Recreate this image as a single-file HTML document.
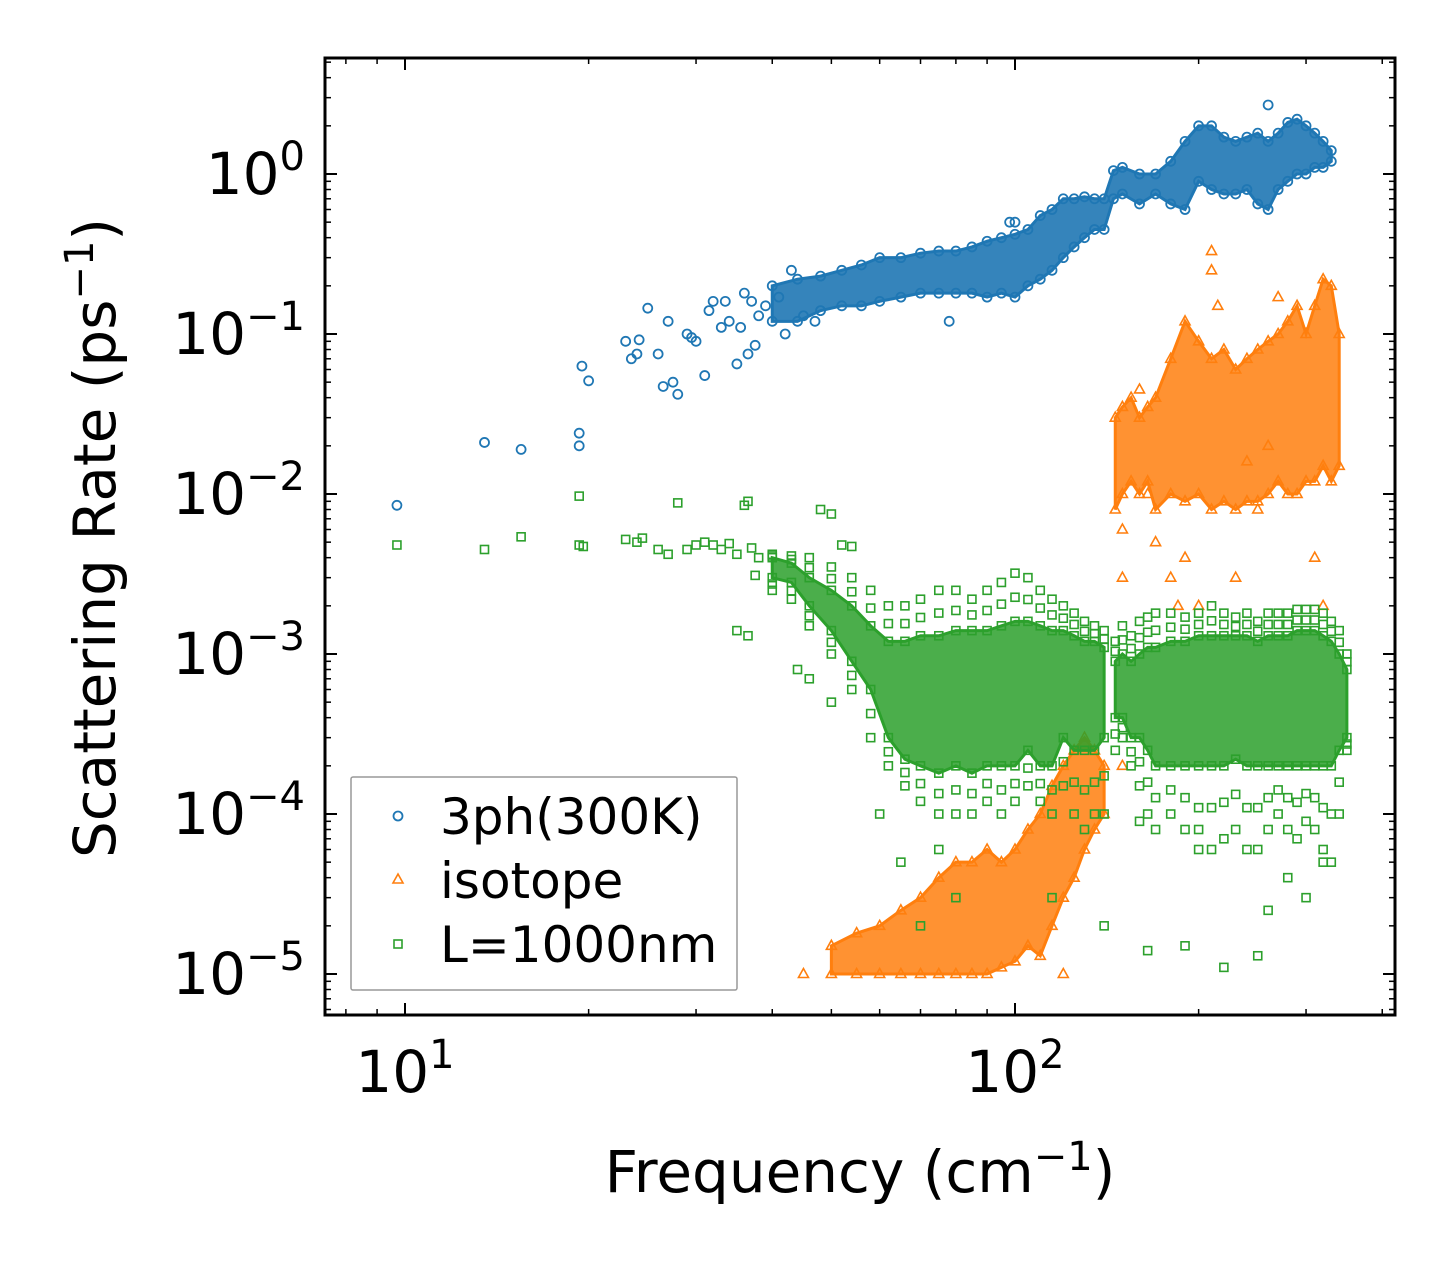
<!DOCTYPE html>
<html><head><meta charset="utf-8"><style>
html,body{margin:0;padding:0;background:#fff}
svg{display:block;font-family:"DejaVu Sans","Liberation Sans",sans-serif}
</style></head><body>
<svg id="chart" width="1455" height="1265" viewBox="0 0 1455 1265" xmlns="http://www.w3.org/2000/svg">
<rect width="1455" height="1265" fill="#fff"/>
<g id="marks"></g>
<g id="axes"></g>
<text transform="translate(115,538) rotate(-90)" text-anchor="middle" font-size="58">Scattering Rate (ps<tspan dy="-22" font-size="40">−1</tspan><tspan dy="22">)</tspan></text>
<text x="860" y="1192" text-anchor="middle" font-size="58">Frequency (cm<tspan dy="-22" font-size="40">−1</tspan><tspan dy="22">)</tspan></text>
<g>
<rect x="351" y="777" width="386" height="213" fill="#fff" stroke="#999" stroke-width="1.5" rx="2"/>
<g><circle cx="398" cy="816" r="4.5" fill="none" stroke="#1f77b4" stroke-width="1.8"/><text x="440" y="834" font-size="50">3ph(300K)</text></g>
<g><path d="M398,874 L403,883 L393,883 Z" fill="none" stroke="#ff7f0e" stroke-width="1.6"/><text x="440" y="898" font-size="50">isotope</text></g>
<g><rect x="394" y="940" width="8" height="8" fill="none" stroke="#2ca02c" stroke-width="1.6"/><text x="440" y="962" font-size="50">L=1000nm</text></g>
</g>
</svg>
<script>
// ---- data ----
const threeFreq=[9.7,13.5,15.5,19.3,19.3,19.5,20,23,23.5,24,24.2,25,26,26.5,27,27.5,28,29,29.5,30,31,31.5,32,33,33.5,34,35,35.5,36,36.5,37,37.5,38,39,41,42,43,45,47,78,98,100,260];
const threeRate=[0.0085,0.021,0.019,0.024,0.020,0.063,0.051,0.09,0.07,0.075,0.092,0.145,0.075,0.047,0.12,0.05,0.042,0.1,0.095,0.09,0.055,0.14,0.16,0.11,0.16,0.12,0.065,0.11,0.18,0.075,0.16,0.085,0.13,0.15,0.17,0.1,0.25,0.13,0.12,0.12,0.5,0.5,2.7];
const threeBandFreq=[40,44,48,52,56,60,65,70,75,80,85,90,95,100,105,110,115,120,125,130,135,140,145,150,160,170,180,190,200,210,220,230,240,250,260,270,280,290,300,310,320,330];
const threeBandLo=[0.12,0.12,0.14,0.15,0.15,0.16,0.17,0.18,0.18,0.18,0.18,0.17,0.18,0.17,0.2,0.22,0.25,0.3,0.35,0.4,0.45,0.45,0.7,0.75,0.65,0.75,0.65,0.6,0.9,0.8,0.75,0.75,0.8,0.65,0.6,0.8,0.9,1.0,1.0,1.1,1.1,1.2];
const threeBandHi=[0.2,0.22,0.23,0.25,0.27,0.3,0.3,0.32,0.33,0.33,0.35,0.38,0.4,0.42,0.45,0.55,0.6,0.7,0.7,0.72,0.7,0.7,1.05,1.1,1.0,1.0,1.2,1.6,2.0,2.0,1.7,1.6,1.7,1.8,1.6,1.8,2.1,2.2,2.0,1.8,1.6,1.4];

const isoFreq=[45,120,150,150,160,165,170,180,185,190,200,210,210,215,270,310,320,230,250,150,240,260];
const isoRate=[1e-5,1e-5,0.006,0.003,0.045,0.01,0.005,0.003,0.002,0.004,0.002,0.33,0.25,0.15,0.17,0.004,0.002,0.003,0.008,0.0002,0.016,0.02];
const isoBand1Freq=[50,55,60,65,70,75,80,85,90,95,100,105,110,115,120,125,130,135,140];
const isoBand1Lo=[1e-5,1e-5,1e-5,1e-5,1e-5,1e-5,1e-5,1e-5,1e-5,1.1e-5,1.2e-5,1.5e-5,1.3e-5,2e-5,3e-5,4e-5,6e-5,8e-5,1e-4];
const isoBand1Hi=[1.5e-5,1.8e-5,2e-5,2.5e-5,3e-5,4e-5,5e-5,5e-5,6e-5,5e-5,6e-5,8e-5,1e-4,1.5e-4,2e-4,2.5e-4,3e-4,2.5e-4,2e-4];
const isoBand2Freq=[146,150,155,160,165,170,180,190,200,210,220,230,240,250,260,270,280,290,300,310,320,330,340];
const isoBand2Lo=[0.008,0.01,0.012,0.01,0.012,0.008,0.01,0.009,0.01,0.008,0.009,0.008,0.009,0.009,0.01,0.012,0.01,0.01,0.012,0.012,0.015,0.012,0.015];
const isoBand2Hi=[0.03,0.035,0.04,0.03,0.035,0.04,0.07,0.12,0.09,0.07,0.08,0.06,0.07,0.08,0.09,0.1,0.12,0.15,0.1,0.15,0.22,0.2,0.1];

const bdyFreq=[9.7,13.5,15.5,19.3,19.3,19.6,23,24,24.5,26,27,28,29,30,31,32,33,34,35,36,36.5,37,37.5,35,36.5,38,44,46,48,50,52,54,50,60,65,70,75,80,115,140,160,165,190,200,220,250,260,280,300,320];
const bdyRate=[0.0048,0.0045,0.0054,0.0097,0.0048,0.0047,0.0052,0.005,0.0053,0.0045,0.0042,0.0088,0.0045,0.0048,0.005,0.0048,0.0045,0.0049,0.0042,0.0085,0.009,0.0046,0.0031,0.0014,0.0013,0.004,0.0008,0.0007,0.008,0.0075,0.0048,0.0047,0.0005,0.0001,0.00005,0.00002,0.00006,0.00003,0.00003,0.00002,0.00009,0.000014,0.000015,0.00008,0.000011,0.000013,0.000025,0.00004,0.00003,0.00005];
const bdyBand1Freq=[40,43,46,50,54,58,62,66,70,75,80,85,90,95,100,105,110,115,120,125,130,135,140];
const bdyBand1Lo=[0.0025,0.0022,0.0015,0.001,0.0006,0.0003,0.0002,0.00015,0.00012,0.0001,0.0001,0.0001,0.00012,0.0001,0.00012,0.00015,0.00012,0.0001,0.00015,0.0001,0.00008,0.0001,0.0001];
const bdyBand1InLo=[0.003,0.0028,0.002,0.0014,0.0009,0.0006,0.0003,0.00022,0.0002,0.00018,0.0002,0.00018,0.0002,0.0002,0.0002,0.00025,0.0002,0.0002,0.0003,0.00025,0.00025,0.00025,0.0003];
const bdyBand1InHi=[0.004,0.0037,0.003,0.0025,0.002,0.0015,0.0012,0.0012,0.0013,0.0013,0.0014,0.0014,0.0014,0.0015,0.0016,0.0016,0.0015,0.0014,0.0014,0.0013,0.0012,0.0012,0.0011];
const bdyBand1Hi=[0.0042,0.0041,0.004,0.0035,0.003,0.0025,0.002,0.002,0.0022,0.0025,0.0025,0.0022,0.0025,0.0028,0.0032,0.003,0.0025,0.0022,0.002,0.0018,0.0016,0.0015,0.0014];
const bdyBand2Freq=[146,150,155,160,165,170,180,190,200,210,220,230,240,250,260,270,280,290,300,310,320,330,340,350];
const bdyBand2Lo=[0.00025,0.0003,0.0002,0.00015,0.0001,0.00008,0.0001,0.00008,0.00006,0.00006,0.00007,0.00008,0.00006,0.00006,0.00008,0.0001,0.00008,0.00007,0.00009,0.00008,0.00006,0.00005,0.0001,0.00025];
const bdyBand2InLo=[0.0004,0.0004,0.0003,0.0003,0.00025,0.0002,0.0002,0.0002,0.0002,0.0002,0.0002,0.00022,0.0002,0.0002,0.0002,0.0002,0.0002,0.0002,0.0002,0.0002,0.0002,0.0002,0.00025,0.0003];
const bdyBand2InHi=[0.0009,0.001,0.0009,0.001,0.0011,0.0011,0.0012,0.0012,0.0013,0.0013,0.0013,0.0013,0.0013,0.0012,0.0013,0.0013,0.0013,0.0014,0.0014,0.0014,0.0013,0.0012,0.001,0.0008];
const bdyBand2Hi=[0.0012,0.0015,0.0013,0.0016,0.0017,0.0018,0.0018,0.0017,0.0018,0.002,0.0018,0.0017,0.0018,0.0016,0.0018,0.0018,0.0018,0.0019,0.0019,0.0019,0.0018,0.0016,0.0014,0.001];

const yTickExps=[0,-1,-2,-3,-4,-5];
const xTickExps=[1,2];

// ---- axes ----
const L=325,R=1395,T=58,B=1015;
function xs(f){return 405+610*(Math.log10(f)-1);}
function ys(r){return 174-160*Math.log10(r);}
const NS="http://www.w3.org/2000/svg";
const marks=document.getElementById('marks'), axes=document.getElementById('axes');
function mk(tag,attrs,parent){const e=document.createElementNS(NS,tag);for(const k in attrs)e.setAttribute(k,attrs[k]);parent.appendChild(e);return e;}

const C3='#1f77b4',CI='#ff7f0e',CB='#2ca02c';
function circ(f,r){const e=mk('circle',{cx:xs(f),cy:ys(r),r:4.5,fill:'none',stroke:C3,'stroke-width':1.8},marks);

}
function tri(f,r){const x=xs(f),y=ys(r);const e=mk('path',{d:`M${x},${y-5.5} L${x+5},${y+3.5} L${x-5},${y+3.5} Z`,fill:'none',stroke:CI,'stroke-width':1.6},marks);

}
function sq(f,r){const e=mk('rect',{x:xs(f)-4,y:ys(r)-4,width:8,height:8,fill:'none',stroke:CB,'stroke-width':1.6},marks);

}
function band(fr,lo,hi,col,op,name){let d='';fr.forEach((f,i)=>{d+=(i?'L':'M')+xs(f)+','+ys(hi[i]);});
for(let i=fr.length-1;i>=0;i--)d+='L'+xs(fr[i])+','+ys(lo[i]);d+='Z';
const e=mk('path',{d:d,fill:col,'fill-opacity':op,stroke:col,'stroke-width':3},marks);

}

// 3ph
band(threeBandFreq,threeBandLo,threeBandHi,C3,0.9,'band-3ph');
threeBandFreq.forEach((f,i)=>{circ(f,threeBandLo[i]);circ(f,threeBandHi[i]);});
threeFreq.forEach((f,i)=>circ(f,threeRate[i]));
// isotope
band(isoBand1Freq,isoBand1Lo,isoBand1Hi,CI,0.85,'band-isotope-low');
band(isoBand2Freq,isoBand2Lo,isoBand2Hi,CI,0.85,'band-isotope-high');
isoBand1Freq.forEach((f,i)=>{tri(f,isoBand1Lo[i]);tri(f,isoBand1Hi[i]);});
isoBand2Freq.forEach((f,i)=>{tri(f,isoBand2Lo[i]);tri(f,isoBand2Hi[i]);});
isoFreq.forEach((f,i)=>tri(f,isoRate[i]));
// boundary
band(bdyBand1Freq,bdyBand1InLo,bdyBand1InHi,CB,0.85,'band-boundary-low');
band(bdyBand2Freq,bdyBand2InLo,bdyBand2InHi,CB,0.85,'band-boundary-high');
[[bdyBand1Freq,bdyBand1Lo,bdyBand1InLo,bdyBand1InHi,bdyBand1Hi],[bdyBand2Freq,bdyBand2Lo,bdyBand2InLo,bdyBand2InHi,bdyBand2Hi]].forEach(b=>{
 b[0].forEach((f,i)=>{sq(f,b[1][i]);sq(f,Math.sqrt(b[1][i]*b[2][i]));sq(f,b[2][i]);sq(f,b[3][i]);sq(f,Math.sqrt(b[3][i]*b[4][i]));sq(f,b[4][i]);});
});
bdyFreq.forEach((f,i)=>sq(f,bdyRate[i]));

// frame
const fr=mk('rect',{x:L,y:T,width:R-L,height:B-T,fill:'none',stroke:'#000','stroke-width':3},axes);


// y ticks
yTickExps.forEach(e=>{const y=ys(Math.pow(10,e));
 mk('line',{x1:L,x2:L+12,y1:y,y2:y,stroke:'#000','stroke-width':2},axes);
 mk('line',{x1:R,x2:R-12,y1:y,y2:y,stroke:'#000','stroke-width':2},axes);
 const t=mk('text',{x:305,y:y+20,'text-anchor':'end','font-size':58},axes);
 
 
 t.innerHTML='10<tspan dy="-24" font-size="40">'+(e<0?'−'+(-e):e)+'</tspan>';
});
for(let e=-6;e<=0;e++)for(let m=2;m<=9;m++){const y=ys(m*Math.pow(10,e));if(y<T||y>B)continue;
 mk('line',{x1:L,x2:L+6,y1:y,y2:y,stroke:'#000','stroke-width':1.5},axes);
 mk('line',{x1:R,x2:R-6,y1:y,y2:y,stroke:'#000','stroke-width':1.5},axes);}
// x ticks
xTickExps.forEach(e=>{const x=xs(Math.pow(10,e));
 mk('line',{x1:x,x2:x,y1:B,y2:B-12,stroke:'#000','stroke-width':2},axes);
 mk('line',{x1:x,x2:x,y1:T,y2:T+12,stroke:'#000','stroke-width':2},axes);
 const t=mk('text',{x:x,y:1092,'text-anchor':'middle','font-size':58},axes);
 
 
 t.innerHTML='10<tspan dy="-24" font-size="40">'+e+'</tspan>';
});
for(let e=0;e<=2;e++)for(let m=2;m<=9;m++){const x=xs(m*Math.pow(10,e));if(x<L||x>R)continue;
 mk('line',{x1:x,x2:x,y1:B,y2:B-6,stroke:'#000','stroke-width':1.5},axes);
 mk('line',{x1:x,x2:x,y1:T,y2:T+6,stroke:'#000','stroke-width':1.5},axes);}
</script>
</body></html>
